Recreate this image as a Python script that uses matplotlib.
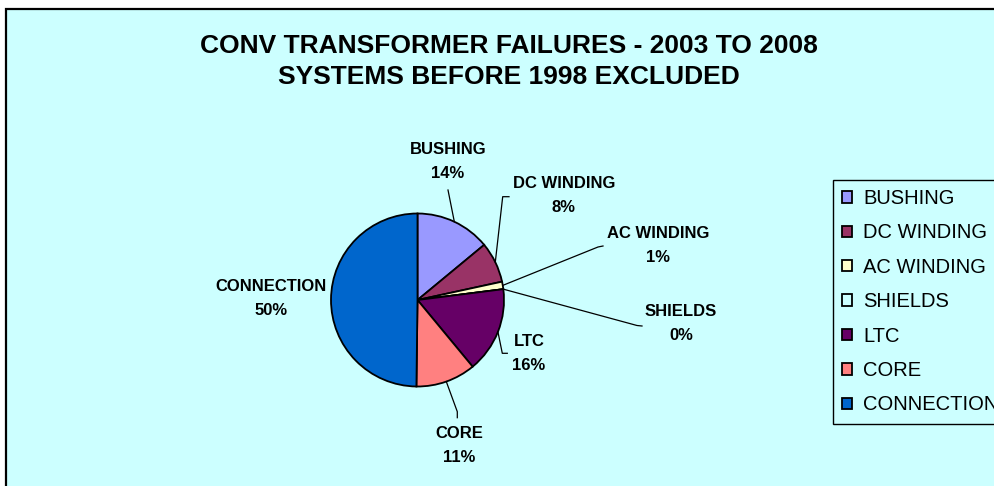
import matplotlib

matplotlib.use("Agg")
import matplotlib.pyplot as plt
from matplotlib.patches import Rectangle
import numpy as np

plt.rcParams["font.family"] = ["Liberation Sans", "DejaVu Sans"]

# data
categories = ["BUSHING", "DC WINDING", "AC WINDING", "SHIELDS", "LTC", "CORE", "CONNECTION"]
shares = [14.0, 7.6, 1.4, 0.0, 16.0, 11.2, 49.8]
colors = ["#9999FF", "#993366", "#FFFFCC", "#CCFFFF", "#660066", "#FF8080", "#0066CC"]
title_lines = ["CONV TRANSFORMER FAILURES - 2003 TO 2008", "SYSTEMS BEFORE 1998 EXCLUDED"]

W, H = 995, 486
BG = "#CCFFFF"

# layout in pixels (y measured from top)
pie_cx, pie_cy, pie_r = 417.5, 300, 86.5
label_pos = [(448, 161), (564, 195.5), (658, 245), (681, 323.5), (529, 354), (459, 445), (271, 298.5)]
# leader line bend points (after the wedge edge point)
leaders = [
    [(448, 190)],
    [(502.7, 196.7), (509, 196.7)],
    [(598, 247), (603, 246)],
    [(637, 325.5), (642, 326)],
    [(502.3, 353.3), (507.3, 353.3)],
    [(457.3, 411.7), (457.3, 417.7)],
    [],
]


def Y(py):
    return H - py


fig = plt.figure(figsize=(W / 100, H / 100), dpi=100)
fig.patch.set_facecolor("white")

# chart area with border (cut off at right and bottom)
fig.add_artist(Rectangle((6.5 / W, -0.1), 1.2, (H - 9) / H + 0.1, transform=fig.transFigure,
                         facecolor=BG, edgecolor="black", linewidth=1.6, zorder=0))

ax = fig.add_axes([0, 0, 1, 1])
ax.set_facecolor("none")
wedges, _ = ax.pie(shares, colors=colors, startangle=90, counterclock=False,
                   center=(pie_cx, Y(pie_cy)), radius=pie_r, frame=False,
                   wedgeprops=dict(edgecolor="black", linewidth=1.3))
ax.set_xlim(0, W)
ax.set_ylim(0, H)
ax.set_aspect("equal")
ax.axis("off")

# labels with leader lines
total = sum(shares)
start = 0.0
for i, (name, v) in enumerate(zip(categories, shares)):
    mid = start + v / total * 360 / 2
    start += v / total * 360
    a = np.deg2rad(mid)
    ex = pie_cx + pie_r * np.sin(a)
    ey = pie_cy - pie_r * np.cos(a)
    if leaders[i]:
        xs = [ex] + [p[0] for p in leaders[i]]
        ys = [Y(ey)] + [Y(p[1]) for p in leaders[i]]
        ax.plot(xs, ys, color="black", linewidth=0.9)
    lx, ly = label_pos[i]
    ax.text(lx, Y(ly), f"{name}\n{v / total * 100:.0f}%", ha="center", va="center",
            fontsize=12, fontweight="bold", linespacing=1.75)

# title
fig.text(509 / W, Y(61.5) / H, "\n".join(title_lines), ha="center", va="center",
         fontsize=19, fontweight="bold", linespacing=1.35)

# legend, running off the right edge like the original
leg = fig.legend(wedges, categories, loc="upper left", bbox_to_anchor=(833 / W, Y(180) / H),
                 fontsize=14.5, frameon=True, fancybox=False, framealpha=1,
                 facecolor=BG, edgecolor="black", handlelength=0.5, handleheight=0.5,
                 handletextpad=0.55, labelspacing=0.765, borderpad=0.45, borderaxespad=0)
leg.get_frame().set_linewidth(1.0)

fig.savefig("out.png", dpi=100)
